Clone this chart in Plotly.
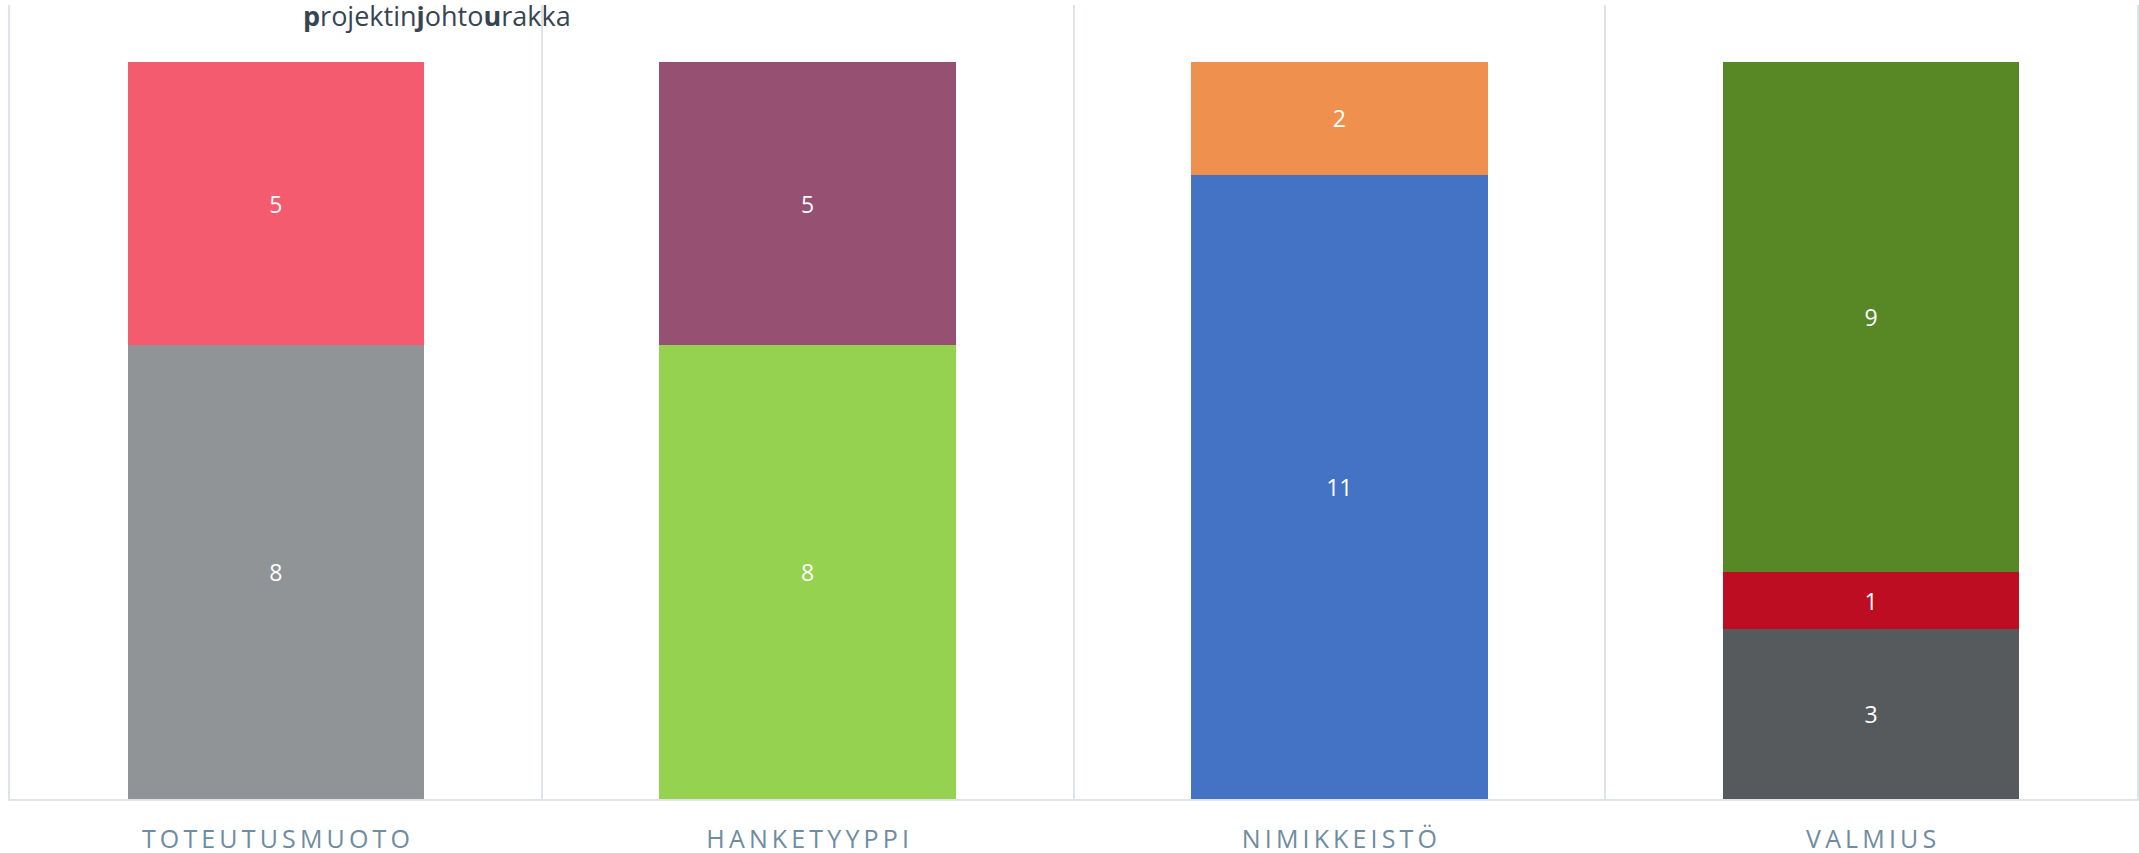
import plotly.graph_objects as go

categories = ["TOTEUTUSMUOTO", "HANKETYYPPI", "NIMIKKEISTÖ", "VALMIUS"]

bottom_values = [8, 8, 11, 3]
middle_values = [None, None, None, 1]
top_values = [5, 5, 2, 9]

bottom_colors = ["#909497", "#94d250", "#4472c4", "#565a5d"]
middle_colors = ["#bc0d22", "#bc0d22", "#bc0d22", "#bc0d22"]
top_colors = ["#f55b6e", "#955072", "#ef904f", "#588726"]

legend_label = "<b>p</b>rojektin<b>j</b>ohto<b>u</b>rakka"

FONT = "Open Sans"
W, H = 2139, 853
ML, MR, MT, MB = 10, 2, 5, 54

spaced = ["\u2009".join(list(c)) for c in categories]

fig = go.Figure()
for vals, cols in [(bottom_values, bottom_colors), (middle_values, middle_colors), (top_values, top_colors)]:
    fig.add_trace(go.Bar(
        x=categories, y=vals,
        marker=dict(color=cols, line=dict(width=0)),
        text=[("" if v is None else str(v)) for v in vals],
        textposition="inside", insidetextanchor="middle", textangle=0,
        textfont=dict(family=FONT, size=23, color="#ffffff"),
        width=0.558, showlegend=False, hoverinfo="skip",
    ))

fig.update_layout(
    width=W, height=H, barmode="stack",
    margin=dict(l=ML, r=MR, t=MT, b=MB, pad=0, autoexpand=False),
    paper_bgcolor="#ffffff", plot_bgcolor="#ffffff",
    uniformtext=dict(minsize=23, mode="show"),
    font=dict(family=FONT),
)
fig.update_xaxes(
    tickmode="array", tickvals=categories, ticktext=spaced,
    tickfont=dict(family=FONT, size=25, color="#708ca1"),
    showgrid=True, gridcolor="#dde3e8", gridwidth=2, tickson="boundaries",
    ticks="", showline=True, linecolor="#dde3e8", linewidth=2,
    ticklabelstandoff=17, zeroline=False, automargin=False,
)
fig.update_yaxes(
    range=[0, 14], showgrid=False, showticklabels=False, zeroline=False,
    showline=True, mirror=True, linecolor="#dde3e8", linewidth=2, ticks="",
    automargin=False,
)
plot_w = W - ML - MR
plot_h = H - MT - MB
fig.add_annotation(
    x=(437 - ML) / plot_w, y=(H - MB - 16) / plot_h, xref="paper", yref="paper",
    text=legend_label, showarrow=False, xanchor="center", yanchor="middle",
    font=dict(family=FONT, size=27, color="#374551"),
)
fig.write_html(
    "out.html",
    config={"displayModeBar": False},
    post_script="document.body.style.margin='0px';document.body.style.overflow='hidden';",
)
